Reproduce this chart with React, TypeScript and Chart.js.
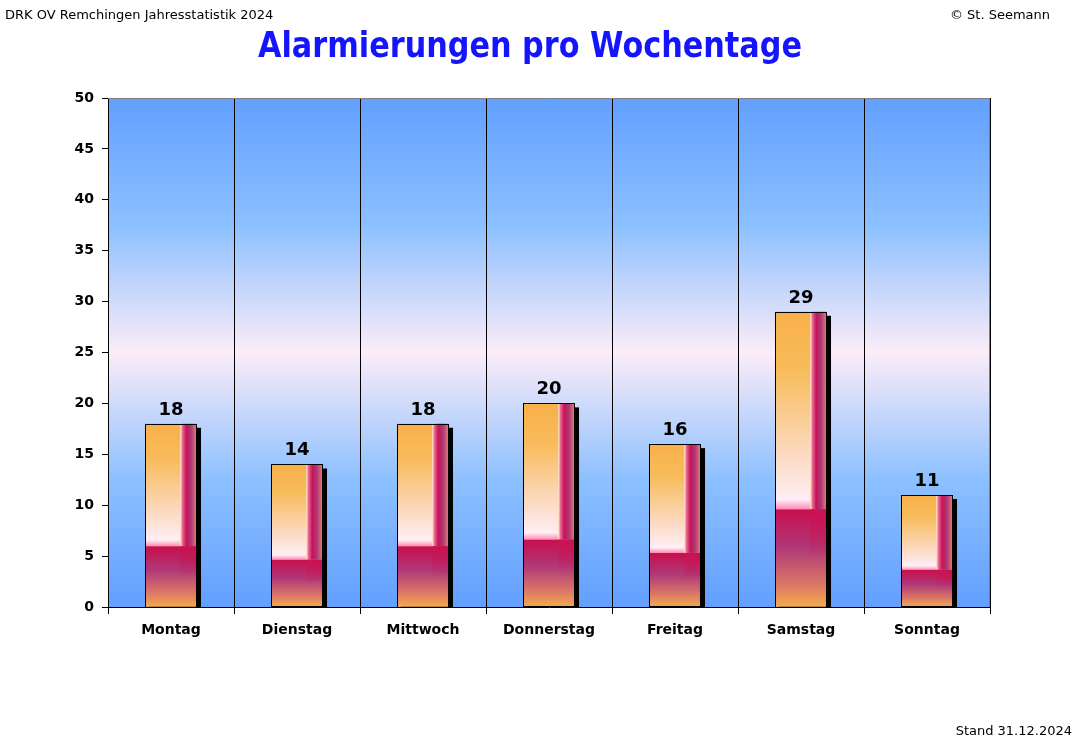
import { useEffect, useRef } from "react";
import { Chart, registerables } from "chart.js";

Chart.register(...registerables);

const days = ["Montag", "Dienstag", "Mittwoch", "Donnerstag", "Freitag", "Samstag", "Sonntag"];
const alarms = [18, 14, 18, 20, 16, 29, 11];
const yMax = 50;
const yStep = 5;

const titleText = "Alarmierungen pro Wochentage";
const headerLeft = "DRK OV Remchingen Jahresstatistik 2024";
const headerRight = "© St. Seemann";
const footerRight = "Stand 31.12.2024";

const FONT = "'Comic Sans MS', 'DejaVu Sans', sans-serif";

// plot background: blue - pale pink - blue
const backgroundPlugin = {
    id: "plotBackground",
    beforeDraw(chart: any) {
        const { ctx, chartArea: a } = chart;
        const g = ctx.createLinearGradient(0, a.top, 0, a.bottom);
        g.addColorStop(0, "#62a0ff");
        g.addColorStop(0.25, "#8cc0ff");
        g.addColorStop(0.5, "#fcecf8");
        g.addColorStop(0.75, "#8cc0ff");
        g.addColorStop(1, "#62a0ff");
        ctx.save();
        ctx.fillStyle = g;
        ctx.fillRect(a.left, a.top, a.right - a.left, a.bottom - a.top);
        ctx.restore();
    },
    afterDraw(chart: any) {
        const { ctx, chartArea: a } = chart;
        ctx.save();
        ctx.strokeStyle = "#808080";
        ctx.lineWidth = 1;
        ctx.beginPath();
        ctx.moveTo(a.left, a.top + 0.5);
        ctx.lineTo(a.right - 0.5, a.top + 0.5);
        ctx.lineTo(a.right - 0.5, a.bottom);
        ctx.stroke();
        ctx.restore();
    },
};

// shadow behind, gradient fill, outline and value on each bar
const barStylePlugin = {
    id: "barStyle",
    beforeDatasetsDraw(chart: any) {
        const { ctx, chartArea: a } = chart;
        const meta = chart.getDatasetMeta(0);
        ctx.save();
        ctx.beginPath();
        ctx.rect(a.left, a.top, a.right - a.left, a.bottom - a.top);
        ctx.clip();
        ctx.fillStyle = "#000000";
        meta.data.forEach((bar: any) => {
            const L = bar.x - bar.width / 2;
            ctx.fillRect(L + 4, bar.y + 4, bar.width, bar.base - bar.y);
        });
        ctx.restore();
    },
    afterDatasetsDraw(chart: any) {
        const { ctx } = chart;
        const meta = chart.getDatasetMeta(0);
        ctx.save();
        meta.data.forEach((bar: any, i: number) => {
            const L = bar.x - bar.width / 2;
            const R = bar.x + bar.width / 2;
            const T = bar.y;
            const B = bar.base;
            const w = R - L;
            const h = B - T;
            const S = T + h * 0.67;
            const M = L + w * 0.68;

            // lower part
            const lower = ctx.createLinearGradient(0, S, 0, B);
            lower.addColorStop(0, "#c80e4c");
            lower.addColorStop(0.4, "#b03878");
            lower.addColorStop(0.75, "#d87468");
            lower.addColorStop(1, "#f4a84c");
            ctx.fillStyle = lower;
            ctx.fillRect(L, S, w, B - S);

            // upper left part
            const upper = ctx.createLinearGradient(0, T, 0, S);
            upper.addColorStop(0, "#f8b04a");
            upper.addColorStop(0.3, "#f8bc5c");
            upper.addColorStop(0.75, "#fcdcc8");
            upper.addColorStop(0.95, "#ffeef4");
            upper.addColorStop(1, "#ff8ab8");
            ctx.fillStyle = upper;
            ctx.fillRect(L, T, M - L, S - T);

            // right strip
            const strip = ctx.createLinearGradient(M, 0, R, 0);
            strip.addColorStop(0, "#fff0f4");
            strip.addColorStop(0.12, "#ec6a98");
            strip.addColorStop(0.35, "#c41454");
            strip.addColorStop(0.65, "#b0387a");
            strip.addColorStop(1, "#e4886a");
            ctx.fillStyle = strip;
            ctx.fillRect(M, T, R - M, S - T);

            // fade of the strip into the lower part
            const fade = ctx.createLinearGradient(0, S, 0, S + (B - S) * 0.5);
            fade.addColorStop(0, "rgba(200,20,84,0.9)");
            fade.addColorStop(1, "rgba(200,20,84,0)");
            ctx.fillStyle = fade;
            ctx.fillRect(M, S, R - M, (B - S) * 0.5);

            // outline
            ctx.strokeStyle = "#000000";
            ctx.lineWidth = 1;
            ctx.strokeRect(Math.round(L) + 0.5, Math.round(T) + 0.5, Math.round(w) - 1, Math.round(h));

            // value label
            ctx.fillStyle = "#000000";
            ctx.font = `bold 18px ${FONT}`;
            ctx.textAlign = "center";
            ctx.textBaseline = "alphabetic";
            ctx.fillText(String(alarms[i]), bar.x, T - 9);
        });
        ctx.restore();
    },
};

// header and footer texts
const textPlugin = {
    id: "pageTexts",
    afterDraw(chart: any) {
        const { ctx } = chart;
        ctx.save();
        ctx.textBaseline = "alphabetic";
        ctx.fillStyle = "#000000";
        ctx.font = `13px ${FONT}`;
        ctx.textAlign = "left";
        ctx.fillText(headerLeft, 5, 19, 300);
        ctx.textAlign = "right";
        ctx.fillText(headerRight, 1050, 19, 112);
        ctx.fillText(footerRight, 1072, 735, 132);

        ctx.fillStyle = "#1414ff";
        ctx.font = `bold 36px ${FONT}`;
        ctx.textAlign = "center";
        ctx.fillText(titleText, 530, 57, 544);
        ctx.restore();
    },
};

const App = () => {
    const chartRef = useRef<HTMLCanvasElement | null>(null);
    const chartInstanceRef = useRef<Chart | null>(null);

    useEffect(() => {
        document.body.style.margin = "0";
        if (!chartRef.current) return;
        const ctx = chartRef.current.getContext("2d");
        if (!ctx) return;
        if (chartInstanceRef.current) {
            chartInstanceRef.current.destroy();
        }

        chartInstanceRef.current = new Chart(ctx, {
            type: "bar",
            data: {
                labels: days,
                datasets: [
                    {
                        label: "Alarmierungen",
                        data: alarms,
                        backgroundColor: "#f8b04a",
                        borderWidth: 0,
                        barPercentage: 0.413,
                        categoryPercentage: 1,
                    },
                ],
            },
            options: {
                responsive: false,
                animation: false,
                layout: {
                    padding: { top: 98, right: 84, bottom: 0, left: 0 },
                },
                plugins: {
                    legend: { display: false },
                    title: { display: false },
                    tooltip: { enabled: false },
                },
                scales: {
                    x: {
                        afterFit: (scale: any) => {
                            scale.height = 744 - 607;
                        },
                        grid: {
                            color: "#000000",
                            lineWidth: 1,
                            offset: true,
                            tickLength: 7,
                        },
                        border: { color: "#000000", width: 1 },
                        ticks: {
                            color: "#000000",
                            padding: 8,
                            font: { family: FONT, size: 14, weight: "bold" },
                        },
                    },
                    y: {
                        min: 0,
                        max: yMax,
                        afterFit: (scale: any) => {
                            scale.width = 108;
                        },
                        grid: {
                            drawOnChartArea: false,
                            color: "#000000",
                            tickLength: 6,
                        },
                        border: { color: "#000000", width: 1 },
                        ticks: {
                            stepSize: yStep,
                            color: "#000000",
                            padding: 8,
                            font: { family: FONT, size: 14, weight: "bold" },
                        },
                    },
                },
            },
            plugins: [backgroundPlugin, barStylePlugin, textPlugin],
        });

        return () => {
            if (chartInstanceRef.current) {
                chartInstanceRef.current.destroy();
                chartInstanceRef.current = null;
            }
        };
    }, []);

    return (
        <div style={{ width: 1074, height: 744, background: "#ffffff" }}>
            <canvas ref={chartRef} width={1074} height={744} style={{ width: 1074, height: 744 }} />
        </div>
    );
};

export default App;
